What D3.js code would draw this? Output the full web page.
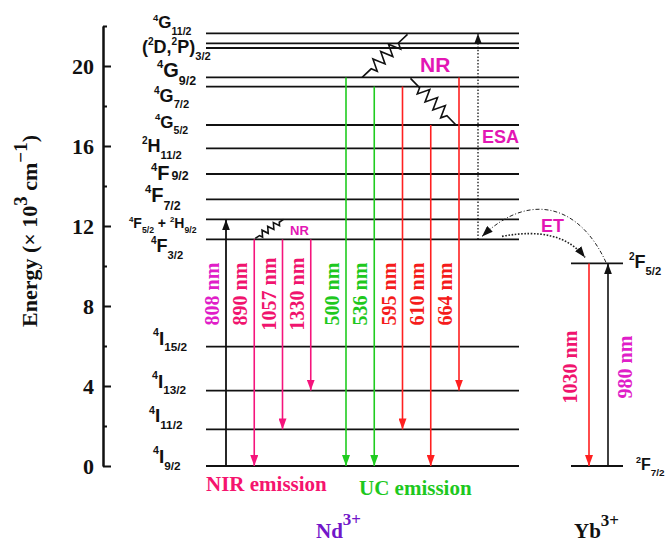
<!DOCTYPE html>
<html><head><meta charset="utf-8">
<script src="https://cdn.jsdelivr.net/npm/d3@7"></script>
<style>body{margin:0;background:#fff}svg{display:block}</style>
</head><body>
<svg id="c" width="671" height="546"></svg>
<script>
// ---------------- DATA ----------------
// Nd3+ energy levels (x10^3 cm^-1)
const ndLevelNames = ["4I9/2","4I11/2","4I13/2","4I15/2","4F3/2","4F5/2+2H9/2","4F7/2","4F9/2","2H11/2","4G5/2","4G7/2","4G9/2","(2D,2P)3/2a","(2D,2P)3/2b","4G11/2"];
const ndLevelEnergies = [0, 1.83, 3.77, 5.97, 11.33, 12.33, 13.33, 14.6, 15.88, 17.05, 18.97, 19.43, 20.9, 21.13, 21.63];
// Yb3+ energy levels
const ybLevelNames = ["2F7/2","2F5/2"];
const ybLevelEnergies = [0, 10.13];
// axis ticks
const yMajorTicks = [0, 4, 8, 12, 16, 20];
const yMinorTicks = [2, 6, 10, 14, 18, 22];
// Nd transitions
const ndTransNames  = ["808","890","1057","1330","500","536","595","610","664"];
const ndTransLabels = ["808 nm","890 nm","1057 nm","1330 nm","500 nm","536 nm","595 nm","610 nm","664 nm"];
const ndTransFrom   = ["4I9/2","4F3/2","4F3/2","4F3/2","4G9/2","4G7/2","4G7/2","4G5/2","4G9/2"];
const ndTransTo     = ["4F5/2+2H9/2","4I9/2","4I11/2","4I13/2","4I9/2","4I9/2","4I11/2","4I9/2","4I13/2"];
const ndTransGroup  = ["pump","nir","nir","nir","green","green","red","red","red"];
// Yb transitions
const ybTransNames  = ["1030","980"];
const ybTransLabels = ["1030 nm","980 nm"];
const ybTransFrom   = ["2F5/2","2F7/2"];
const ybTransTo     = ["2F7/2","2F5/2"];
// level label texts
const levelLabelParts = {
  "4G11/2": [["4","sup"],["G","n"],["11/2","sub"]],
  "(2D,2P)3/2b": [["(","n"],["2","sup"],["D,","n"],["2","sup"],["P)","n"],["3/2","sub"]],
  "4G9/2": [["4","sup"],["G","n"],["9/2","sub"]],
  "4G7/2": [["4","sup"],["G","n"],["7/2","sub"]],
  "4G5/2": [["4","sup"],["G","n"],["5/2","sub"]],
  "2H11/2": [["2","sup"],["H","n"],["11/2","sub"]],
  "4F9/2": [["4","sup"],["F","n"],["9/2","mid"]],
  "4F7/2": [["4","sup"],["F","n"],["7/2","sub"]],
  "4F5/2+2H9/2": [["4","sup"],["F","n"],["5/2","sub"],[" + ","n"],["2","sup"],["H","n"],["9/2","sub"]],
  "4F3/2": [["4","sup"],["F","n"],["3/2","sub"]],
  "4I15/2": [["4","sup"],["I","n"],["15/2","sub"]],
  "4I13/2": [["4","sup"],["I","n"],["13/2","sub"]],
  "4I11/2": [["4","sup"],["I","n"],["11/2","sub"]],
  "4I9/2": [["4","sup"],["I","n"],["9/2","sub"]],
  "2F5/2": [["2","sup"],["F","n"],["5/2","sub"]],
  "2F7/2": [["2","sup"],["F","n"],["7/2","sub"]]
};

// ---------------- LAYOUT / STYLE ----------------
const labelLayout = { // x, dy from level, font size
  "4G11/2": [153, -5, 17], "(2D,2P)3/2b": [142, 10, 18], "4G9/2": [157, 0, 20],
  "4G7/2": [154, 15, 18], "4G5/2": [155, 3, 17], "2H11/2": [142, 4, 18],
  "4F9/2": [151, 6, 20], "4F7/2": [145, 3, 20], "4F5/2+2H9/2": [129, 9, 14],
  "4F3/2": [151, 13, 18], "4I15/2": [153, -2, 19], "4I13/2": [152, -3, 19],
  "4I11/2": [149, -7, 19], "4I9/2": [153, -3, 19],
  "2F5/2": [629, 5, 18], "2F7/2": [636, 4, 16]
};
const col = {pump:"#111", nir:"#f5147c", green:"#1fcc1f", red:"#ff2020"};
const labCol = {pump:"#e01ec8", nir:"#f0146e", green:"#1ec81e", red:"#f51c1c"};
const magenta = "#e316b4";
const serif = "'Liberation Serif','Times New Roman',serif";
const sans = "'Liberation Sans',Arial,sans-serif";

const svg = d3.select("#c");
svg.append("rect").attr("width",671).attr("height",546).attr("fill","#fff");

const y = d3.scaleLinear().domain([0, 22]).range([466, 26]);
const ndE = new Map(ndLevelNames.map((n,i)=>[n, ndLevelEnergies[i]]));
const ybE = new Map(ybLevelNames.map((n,i)=>[n, ybLevelEnergies[i]]));
const groupOf = new Map(ndTransNames.map((n,i)=>[n, ndTransGroup[i]]));
const xT = d3.scalePoint().domain(ndTransNames).range([226, 452]);
const xN = n => xT(n) + (["green","red"].includes(groupOf.get(n)) ? 7 : 0);
const xYb = d3.scalePoint().domain(ybTransNames).range([589, 608]);
const ndX = [206, 519], ybX = [571, 623];

// markers
const defs = svg.append("defs");
function marker(id, color, w, h){
  defs.append("marker").attr("id",id).attr("viewBox",`0 0 ${w} ${h}`)
    .attr("markerUnits","userSpaceOnUse").attr("markerWidth",w).attr("markerHeight",h)
    .attr("refX",w).attr("refY",h/2).attr("orient","auto")
    .append("path").attr("d",`M0,0L${w},${h/2}L0,${h}Z`).attr("fill",color);
}
Object.entries(col).forEach(([k,c])=>marker("m_"+k, c, 11, 8));
marker("m_blk", "#111", 11, 8);

// ---------------- AXIS ----------------
const ax = svg.append("g").attr("transform","translate(103,0)");
ax.call(d3.axisLeft(y).tickValues(yMajorTicks).tickSize(-8).tickSizeOuter(0).tickPadding(9).tickFormat(d3.format("d")));
ax.append("g").call(d3.axisLeft(y).tickValues(yMinorTicks).tickSize(-4).tickSizeOuter(0).tickFormat(""));
ax.selectAll("path,line").attr("stroke","#111").attr("stroke-width",2);
ax.selectAll("text").attr("font-family",serif).attr("font-weight","bold").attr("font-size",22).attr("fill","#111");

const yt = svg.append("text").attr("transform",`translate(37,${y(11.75)}) rotate(-90)`)
  .attr("text-anchor","middle").attr("font-family",serif).attr("font-weight","bold").attr("font-size",22).attr("fill","#111");
yt.append("tspan").text("Energy (× 10");
yt.append("tspan").attr("dy",-10).attr("font-size",19).text("3");
yt.append("tspan").attr("dy",10).text(" cm");
yt.append("tspan").attr("dy",-10).attr("font-size",19).text("−1");
yt.append("tspan").attr("dy",10).text(")");

// ---------------- LEVELS ----------------
svg.append("g").selectAll("line").data(ndLevelNames).join("line")
  .attr("x1",ndX[0]).attr("x2",ndX[1]).attr("y1",d=>y(ndE.get(d))).attr("y2",d=>y(ndE.get(d)))
  .attr("stroke","#111").attr("stroke-width",1.8);
svg.append("g").selectAll("line").data(ybLevelNames).join("line")
  .attr("x1",ybX[0]).attr("x2",ybX[1]).attr("y1",d=>y(ybE.get(d))).attr("y2",d=>y(ybE.get(d)))
  .attr("stroke","#111").attr("stroke-width",1.8);

// labels
function drawLabel(name, e){
  const [lx, dy, s] = labelLayout[name];
  const t = svg.append("text").attr("x",lx).attr("y",y(e)+dy)
    .attr("font-family",sans).attr("font-weight","bold").attr("fill","#111");
  let cur = 0;
  levelLabelParts[name].forEach(([txt,k])=>{
    const target = k==="sup" ? -0.45*s : k==="sub" ? 0.36*s : 0;
    const fs = k==="n" ? s : (k==="sup" ? s*0.56 : s*0.62);
    const ts = t.append("tspan").attr("dy", target-cur).attr("font-size",fs).text(txt);
    if (k==="mid") ts.attr("dx", 2);
    cur = target;
  });
}
Object.keys(levelLabelParts).forEach(n=>{
  drawLabel(n, ndE.has(n) ? ndE.get(n) : ybE.get(n));
});

// ---------------- TRANSITIONS ----------------
const tg = svg.append("g");
ndTransNames.forEach((n,i)=>{
  const g = ndTransGroup[i];
  const x = xN(n);
  tg.append("line").attr("x1",x).attr("x2",x)
    .attr("y1",y(ndE.get(ndTransFrom[i]))).attr("y2",y(ndE.get(ndTransTo[i])))
    .attr("stroke",col[g]).attr("stroke-width", g==="pump"?1.8:1.6)
    .attr("marker-end",`url(#m_${g})`);
  svg.append("text").attr("transform",`translate(${x-14},${y(8.6)}) rotate(-90)`)
    .attr("text-anchor","middle").attr("dy","0.35em")
    .attr("font-family",serif).attr("font-weight","bold").attr("font-size",20)
    .attr("fill",labCol[g]).text(ndTransLabels[i]);
});
ybTransNames.forEach((n,i)=>{
  const x = xYb(n);
  const isEm = i===0;
  tg.append("line").attr("x1",x).attr("x2",x)
    .attr("y1",y(ybE.get(ybTransFrom[i]))).attr("y2",y(ybE.get(ybTransTo[i])))
    .attr("stroke",isEm?col.red:"#111").attr("stroke-width",1.6)
    .attr("marker-end",isEm?"url(#m_red)":"url(#m_blk)");
  svg.append("text").attr("transform",`translate(${isEm? x-19 : x+17},${y(4.95)}) rotate(-90)`)
    .attr("text-anchor","middle").attr("dy","0.35em")
    .attr("font-family",serif).attr("font-weight","bold").attr("font-size",20)
    .attr("fill",isEm?labCol.nir:labCol.pump).text(ybTransLabels[i]);
});

// ESA (dotted)
const xESA = xN("664") + 19;
tg.append("line").attr("x1",xESA).attr("x2",xESA)
  .attr("y1",y(ndE.get("4F3/2"))).attr("y2",y(ndE.get("4G11/2")))
  .attr("stroke","#111").attr("stroke-width",1.3).attr("stroke-dasharray","1.5,1.8")
  .attr("marker-end","url(#m_blk)");

// ET curves
const ybTop = y(ybE.get("2F5/2")), f32 = y(ndE.get("4F3/2"));
const p0 = [xYb("980")-2, ybTop-1], p3 = [xESA+4, f32-3];
tg.append("path")
  .attr("d",`M${p0}C${p0[0]-26},${p0[1]-57} ${p0[0]-76},${p0[1]-72} ${p3}`)
  .attr("fill","none").attr("stroke","#222").attr("stroke-width",1)
  .attr("stroke-dasharray","4,2,1,2").attr("marker-end","url(#m_blk)");
const q0 = [xESA+24, f32-3], q1 = [xYb("1030")-4, ybTop-6];
tg.append("path")
  .attr("d",`M${q0}Q${q0[0]+58},${q0[1]-11} ${q1}`)
  .attr("fill","none").attr("stroke","#222").attr("stroke-width",1.6)
  .attr("stroke-dasharray","1.6,1.6").attr("marker-end","url(#m_blk)");

// NR zig-zags
function zigzag(a, b, n, amp, lead){
  const dx=b[0]-a[0], dy=b[1]-a[1], L=Math.hypot(dx,dy);
  const ux=dx/L, uy=dy/L, px=-uy, py=ux;
  const pts=[a, [a[0]+dx*lead, a[1]+dy*lead]];
  for(let i=0;i<n;i++){
    const t = lead + (i+0.5)/n*(1-2*lead);
    const s = (i%2===0?1:-1)*amp;
    pts.push([a[0]+dx*t+px*s, a[1]+dy*t+py*s]);
  }
  pts.push([a[0]+dx*(1-lead), a[1]+dy*(1-lead)], b);
  return d3.line()(pts);
}
const zz = svg.append("g").attr("fill","none").attr("stroke","#111").attr("stroke-width",1.6).attr("stroke-linejoin","miter");
zz.append("path").attr("d", zigzag([(xN("500")+xN("536"))/2+2, y(ndE.get("4G9/2"))], [xN("595")+5, y(ndE.get("4G11/2"))+1], 7, 6, 0.2));
zz.append("path").attr("d", zigzag([xN("595")+8, y(ndE.get("4G9/2"))+1], [xN("664")-3, y(ndE.get("4G5/2"))], 7, 6, 0.2));
zz.append("path").attr("d", zigzag([xN("890")+1, y(ndE.get("4F3/2"))-1], [xN("1057")+1, y(ndE.get("4F5/2+2H9/2"))], 7, 3, 0.15));

// Annotations
const ann = (txt,x,yy,s,c,fam,anchor)=>svg.append("text").attr("x",x).attr("y",yy).attr("font-size",s)
  .attr("font-family",fam||sans).attr("font-weight","bold").attr("fill",c).attr("text-anchor",anchor||"start").text(txt);
ann("NR", 420, 72, 21, magenta);
ann("NR", 290, 235, 13, magenta);
ann("ESA", 482, 143, 18, magenta);
ann("ET", 541, 232, 18, magenta);
ann("NIR emission", 206, 491, 21, "#f5146e", serif);
ann("UC emission", 359, 495, 21, "#1ec81e", serif);

const nd = svg.append("text").attr("x",316).attr("y",538).attr("font-family",serif).attr("font-weight","bold").attr("font-size",21).attr("fill","#7216c9");
nd.append("tspan").text("Nd");
nd.append("tspan").attr("dy",-13).attr("font-size",17).text("3+");
const yb = svg.append("text").attr("x",574).attr("y",538).attr("font-family",serif).attr("font-weight","bold").attr("font-size",21).attr("fill","#111");
yb.append("tspan").text("Yb");
yb.append("tspan").attr("dy",-12).attr("font-size",17).text("3+");
</script>
</body></html>
